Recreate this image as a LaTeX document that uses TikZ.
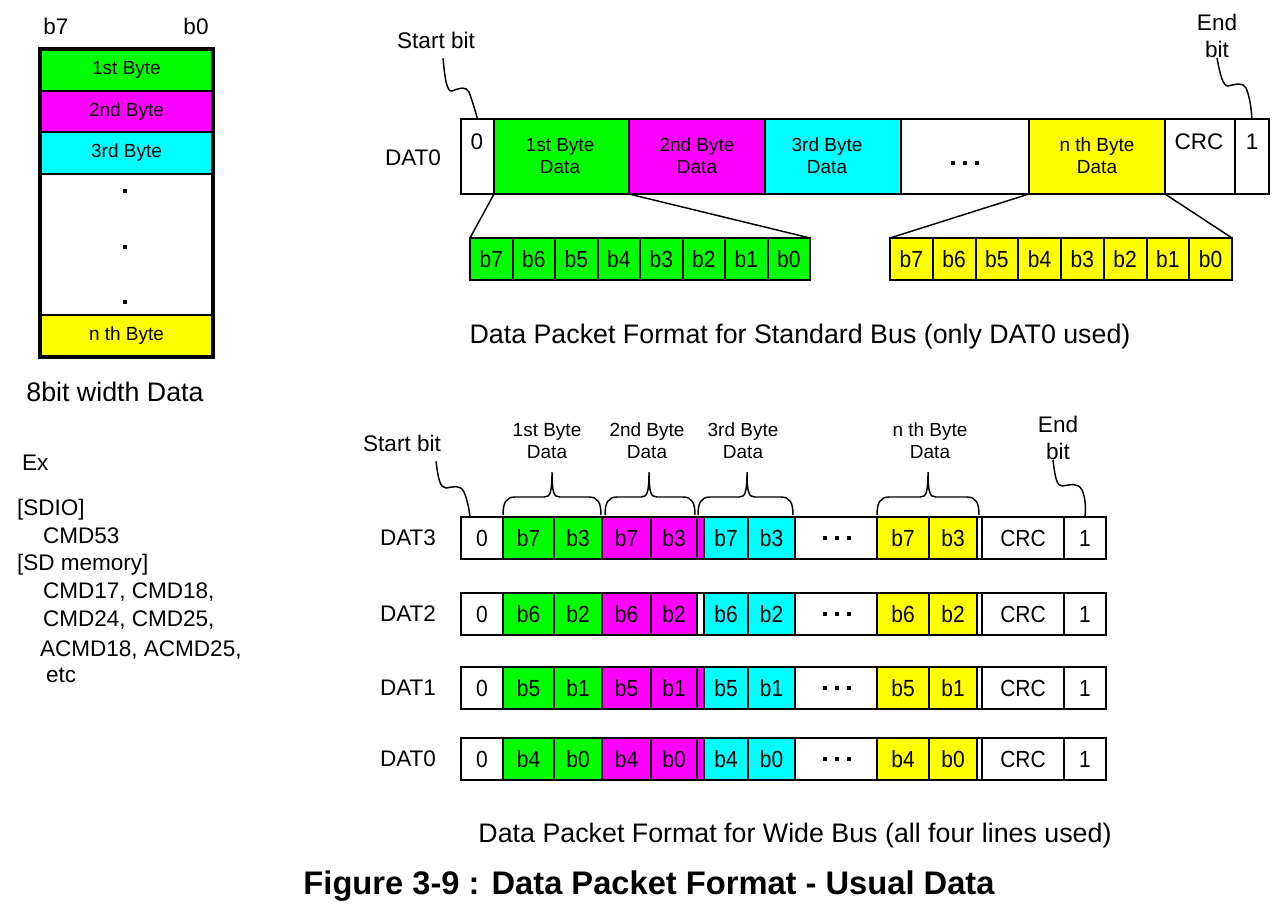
\documentclass[tikz,border=0pt]{standalone}
\usepackage{fontspec}
\setmainfont{Liberation Sans}
\newfontfamily\narrowsans[FakeStretch=0.9]{Liberation Sans}
\usetikzlibrary{calc}
\definecolor{cgreen}{RGB}{0,255,0}
\definecolor{cmag}{RGB}{255,0,255}
\definecolor{ccyan}{RGB}{0,255,255}
\definecolor{cyel}{RGB}{255,255,0}
\newcommand\mkcell[8][]{\node[cellbox,fill=#7,minimum width={((#4)-(#3))*0.75pt},minimum height={((#6)-(#5))*0.75pt},#1] (#2) at ({((#3)+(#4))/2},{((#5)+(#6))/2}) {#8};}
\newcommand\mkbrace[3]{\draw[thinline] (#1,515) .. controls (#1,503) and (#1+3,497) .. (#1+12,497) -- (#3-8,497) .. controls (#3-2,497) and (#3,493) .. (#3,472) .. controls (#3,493) and (#3+2,497) .. (#3+8,497) -- (#2-12,497) .. controls (#2-3,497) and (#2,503) .. (#2,515);}
\newcommand\sqdot[2]{\fill (#1-2.2,#2-2.2) rectangle (#1+2.2,#2+2.2);}
\tikzset{
  lblf/.style={font=\fontsize{16.9}{20.25}\selectfont},
  bitf/.style={font=\narrowsans\fontsize{17.5}{20}\selectfont},
  smallf/.style={font=\fontsize{14.25}{16.5}\selectfont},
  capf/.style={font=\fontsize{20.1}{24}\selectfont},
  titlef/.style={font=\fontsize{24.5}{29}\selectfont\bfseries},
  txt/.style={inner sep=0pt, outer sep=0pt},
  cellbox/.style={draw=black, line width=1.5pt, inner sep=0pt, outer sep=0pt, rectangle, bitf},
  outerbox/.style={draw=black, line width=2.2pt},
  thinline/.style={draw=black, line width=1.1pt},
}
\begin{document}
\begin{tikzpicture}[x=0.75pt,y=-0.75pt]
\useasboundingbox (0,0) rectangle (1280,911);
\fill[white] (0,0) rectangle (1280,911);

% ---------- left 8-bit box ----------
\node[txt,lblf] (lb7) at (56,26) {b7};
\node[txt,lblf] (lb0) at (196,26) {b0};
\mkcell[smallf,line width=1.8pt]{l1}{40}{213}{49}{91}{cgreen}{1st Byte}
\mkcell[smallf,line width=1.8pt]{l2}{40}{213}{91}{132}{cmag}{2nd Byte}
\mkcell[smallf,line width=1.8pt]{l3}{40}{213}{132}{174}{ccyan}{3rd Byte}
\mkcell[smallf,line width=1.8pt]{lw}{40}{213}{174}{315}{white}{}
\mkcell[smallf,line width=1.8pt]{ln}{40}{213}{315}{357}{cyel}{n th Byte}
\draw[line width=3.3pt] (l1.north west) rectangle (ln.south east);
\sqdot{125}{191}
\sqdot{125}{247}
\sqdot{125}{302}
\node[txt,capf] (w8) at (115,392) {8bit width Data};

\node[txt,lblf,anchor=west] (ex) at (22,463) {Ex};
\node[txt,lblf,anchor=west] (ex1) at (17,510) {[SDIO]};
\node[txt,lblf,anchor=west] (ex2) at (43,536) {CMD53};
\node[txt,lblf,anchor=west] (ex3) at (17,565) {[SD memory]};
\node[txt,lblf,anchor=west] (ex4) at (43,592) {CMD17, CMD18,};
\node[txt,lblf,anchor=west] (ex5) at (43,620) {CMD24, CMD25,};
\node[txt,lblf,anchor=west] (ex6) at (40,650) {ACMD18, ACMD25,};
\node[txt,lblf,anchor=west] (ex7) at (46,675) {etc};

% ---------- standard bus ----------
\node[txt,lblf] (tdat) at (413,158) {DAT0};
\mkcell{t0}{461}{494}{119}{194}{white}{}
\mkcell{t1}{494}{629}{119}{194}{cgreen}{}
\mkcell{t2}{629}{765}{119}{194}{cmag}{}
\mkcell{t3}{765}{901}{119}{194}{ccyan}{}
\mkcell{td}{901}{1029}{119}{194}{white}{}
\mkcell{tn}{1029}{1165}{119}{194}{cyel}{}
\mkcell{tc}{1165}{1235}{119}{194}{white}{}
\mkcell{te}{1235}{1269}{119}{194}{white}{}
\draw[outerbox] (t0.north west) rectangle (te.south east);
\node[txt,lblf] at (477,142) {0};
\node[txt,smallf,align=center] at (560,156) {1st Byte\\Data};
\node[txt,smallf,align=center] at (697,156) {2nd Byte\\Data};
\node[txt,smallf,align=center] at (827,156) {3rd Byte\\Data};
\node[txt,smallf,align=center] at (1097,156) {n th Byte\\Data};
\node[txt,lblf] at (1199,142) {CRC};
\node[txt,lblf] at (1252,142) {1};
\sqdot{953}{163}
\sqdot{965}{163}
\sqdot{977}{163}

\node[txt,lblf] (sb1) at (436,40) {Start bit};
\draw[thinline] ($(sb1.south)+(7,10)$) .. controls (445,80) and (447,92) .. (452,91) .. controls (460,88) and (466,86) .. (469,92) .. controls (472,100) and (475,110) .. (t0.north);
\node[txt,lblf,align=center] (eb1) at (1217,36) {End\\bit};
\draw[thinline] (eb1.south) .. controls (1220,75) and (1223,86) .. (1228,86) .. controls (1236,84) and (1243,82) .. (1246,88) .. controls (1249,95) and (1251,105) .. (te.north);

% bit rows
\foreach \i/\bb in {0/7,1/6,2/5,3/4,4/3,5/2,6/1,7/0}{
  \mkcell{gb\bb}{470+\i*42.5}{470+\i*42.5+42.5}{238}{280}{cgreen}{b\bb}
  \mkcell{yb\bb}{890+\i*42.75}{890+\i*42.75+42.75}{238}{280}{cyel}{b\bb}
}
\draw[outerbox] (gb7.north west) rectangle (gb0.south east);
\draw[outerbox] (yb7.north west) rectangle (yb0.south east);
\draw[thinline] (t1.south west) -- (gb7.north west);
\draw[thinline] (t1.south east) -- (gb0.north east);
\draw[thinline] (tn.south west) -- (yb7.north west);
\draw[thinline] (tn.south east) -- (yb0.north east);

\node[txt,capf] (cap1) at (800,337) {Data Packet Format for Standard Bus (only DAT0 used)};

% ---------- wide bus ----------
\foreach \r/\t/\hi/\lo/\sf in {3/517/7/3/cmag, 2/593/6/2/white, 1/667/5/1/cmag, 0/738/4/0/cmag}{
  \pgfmathsetmacro\bt{\t+42}
  \mkcell{w\r-z}{461}{503}{\t}{\bt}{white}{0}
  \mkcell{w\r-g1}{503}{554}{\t}{\bt}{cgreen}{b\hi}
  \mkcell{w\r-g2}{554}{602}{\t}{\bt}{cgreen}{b\lo}
  \mkcell{w\r-m1}{602}{651}{\t}{\bt}{cmag}{b\hi}
  \mkcell{w\r-m2}{651}{697}{\t}{\bt}{cmag}{b\lo}
  \mkcell{w\r-ms}{697}{704}{\t}{\bt}{\sf}{}
  \mkcell{w\r-c1}{704}{748}{\t}{\bt}{ccyan}{b\hi}
  \mkcell{w\r-c2}{748}{795}{\t}{\bt}{ccyan}{b\lo}
  \mkcell{w\r-d}{795}{877}{\t}{\bt}{white}{}
  \mkcell{w\r-y1}{877}{929}{\t}{\bt}{cyel}{b\hi}
  \mkcell{w\r-y2}{929}{977}{\t}{\bt}{cyel}{b\lo}
  \mkcell{w\r-ys}{977}{982}{\t}{\bt}{white}{}
  \mkcell{w\r-crc}{982}{1064}{\t}{\bt}{white}{CRC}
  \mkcell{w\r-e}{1064}{1106}{\t}{\bt}{white}{1}
  \draw[outerbox] (w\r-z.north west) rectangle (w\r-e.south east);
  \node[txt,lblf] at (408,\t+21) {DAT\r};
  \sqdot{825}{\t+21}
  \sqdot{837}{\t+21}
  \sqdot{849}{\t+21}
}

\mkbrace{503}{601}{552}
\mkbrace{605}{695}{649}
\mkbrace{698}{793}{747}
\mkbrace{877}{979}{928}
\node[txt,smallf,align=center] (bl1) at (547,441) {1st Byte\\Data};
\node[txt,smallf,align=center] (bl2) at (647,441) {2nd Byte\\Data};
\node[txt,smallf,align=center] (bl3) at (743,441) {3rd Byte\\Data};
\node[txt,smallf,align=center] (bln) at (930,441) {n th Byte\\Data};

\node[txt,lblf] (sb2) at (402,443) {Start bit};
\draw[thinline] ($(sb2.south)+(34,10)$) .. controls (438,478) and (440,488) .. (446,488) .. controls (453,487) and (460,484) .. (464,492) .. controls (467,499) and (469,508) .. ($(w3-z.north west)+(9,0)$);
\node[txt,lblf,align=center] (eb2) at (1058,438) {End\\bit};
\draw[thinline] ($(eb2.south)+(-5,0)$) .. controls (1055,478) and (1057,486) .. (1062,486) .. controls (1070,485) and (1078,482) .. (1082,490) .. controls (1085,497) and (1086,505) .. (w3-e.north);

\node[txt,capf] (cap2) at (795,836) {Data Packet Format for Wide Bus (all four lines used)};
\node[txt,titlef] (title) at (649,886) {Figure 3-9 : Data Packet Format - Usual Data};
\end{tikzpicture}
\end{document}
